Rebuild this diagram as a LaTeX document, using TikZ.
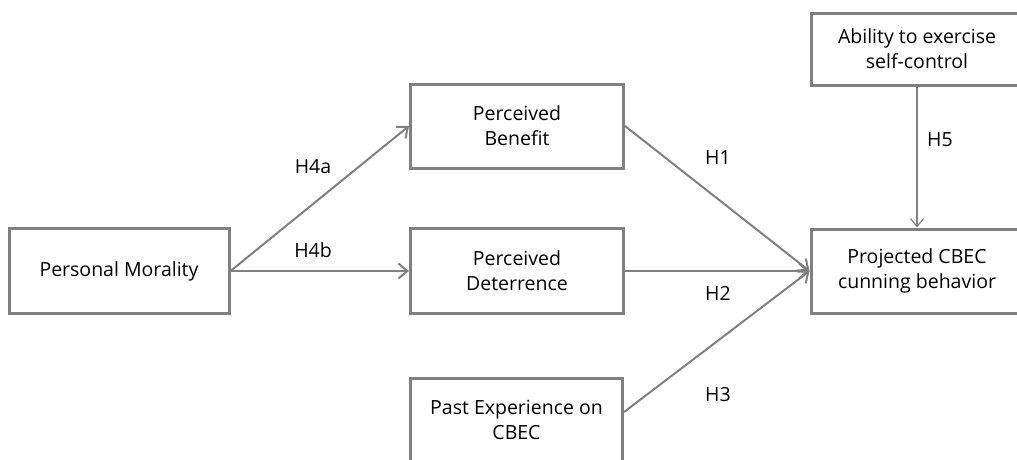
\documentclass[tikz,border=0pt]{standalone}
\usepackage{fontspec}
\setmainfont{Open Sans}
\usetikzlibrary{arrows.meta}
\begin{document}
\begin{tikzpicture}[x=1pt,y=-1pt,
  box/.style={draw=black!50,line width=3pt,fill=white,inner sep=0pt,align=center,
    font=\fontsize{19.5}{25}\selectfont},
  conn/.style={draw=black!50,line width=2pt,-{Straight Barb[length=9pt,width=15pt,line width=2pt]}},
  thin/.style={draw=black!50,line width=1.2pt,-{Straight Barb[length=8pt,width=13pt,line width=1.2pt]}},
  lab/.style={font=\fontsize{19.5}{22}\selectfont,inner sep=0pt}]
\useasboundingbox (0,0) rectangle (1017,459);
\clip (0,0) rectangle (1017,459);
\node[box,minimum width=220pt,minimum height=85pt] (pm) at (119,271) {Personal Morality};
\node[box,minimum width=213pt,minimum height=84pt] (pb) at (517,126) {Perceived\\Benefit};
\node[box,minimum width=213pt,minimum height=85pt] (pd) at (517,271) {Perceived\\Deterrence};
\node[box,minimum width=212pt,minimum height=84pt] (pe) at (516.5,420) {Past Experience on\\CBEC};
\node[box,minimum width=212pt,minimum height=72pt] (ab) at (917,49) {Ability to exercise\\self-control};
\node[box,minimum width=212pt,minimum height=84pt] (pc) at (917,271) {Projected CBEC\\cunning behavior};
\draw[conn] (pm.east) -- (pb.west);
\draw[conn] (pm.east) -- (pd.west);
\draw[conn] (pb.east) -- (pc.west);
\draw[conn] (pd.east) -- (pc.west);
\draw[conn] ([yshift=8pt]pe.east) -- (pc.west);
\draw[thin] (ab.south) -- (pc.north);
\node[lab] (h4a) at (313,167) {H4a};
\node[lab] (h4b) at (313,250) {H4b};
\node[lab] (h1) at (718,158) {H1};
\node[lab] (h2) at (718,293) {H2};
\node[lab] (h3) at (718,395) {H3};
\node[lab] (h5) at (940,140) {H5};
\end{tikzpicture}
\end{document}
